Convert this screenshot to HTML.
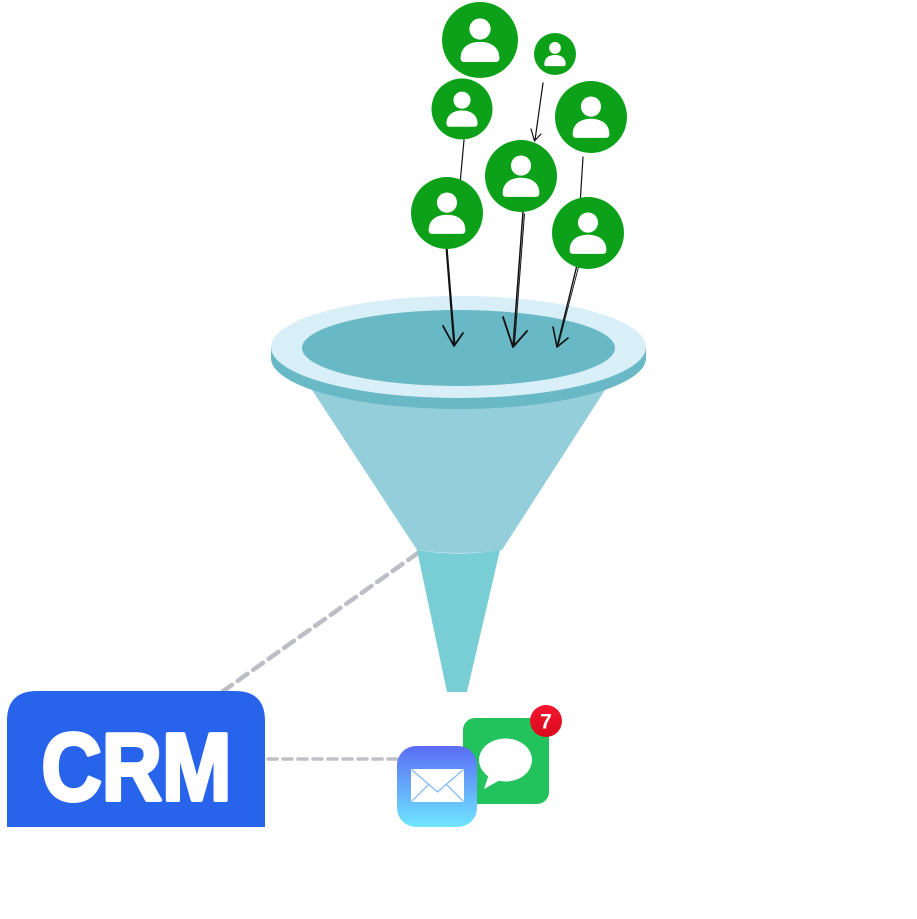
<!DOCTYPE html>
<html><head><meta charset="utf-8"><style>
html,body{margin:0;padding:0;background:#fff;}
svg{display:block;}
</style></head><body>
<svg width="917" height="919" viewBox="0 0 917 919" xmlns="http://www.w3.org/2000/svg">
<defs>
<linearGradient id="mailg" x1="0" y1="0" x2="0" y2="1">
<stop offset="0" stop-color="#5a6cf6"/><stop offset="1" stop-color="#6fe6ff"/>
</linearGradient>
<linearGradient id="badg" x1="0" y1="0" x2="0" y2="1">
<stop offset="0" stop-color="#f5152f"/><stop offset="1" stop-color="#d80a1e"/>
</linearGradient>
<g id="person">
<circle cx="0" cy="-0.29" r="0.28" fill="#fff"/>
<path d="M-0.51,0.48 C-0.51,0.2 -0.3,0.05 0,0.05 C0.3,0.05 0.51,0.2 0.51,0.48 Q0.51,0.58 0.41,0.58 L-0.41,0.58 Q-0.51,0.58 -0.51,0.48 Z" fill="#fff"/>
</g>
</defs>

<!-- dashed connectors -->
<line x1="418" y1="553" x2="212" y2="699" stroke="#bdbdc5" stroke-width="4.5" stroke-dasharray="12 7" stroke-linecap="round"/>
<line x1="268" y1="759" x2="402" y2="759" stroke="#c0c0c8" stroke-width="3.5" stroke-dasharray="9 6" stroke-linecap="round"/>

<!-- funnel -->
<path d="M417,550 Q459,557 500,550 L467,692 L447,692 Z" fill="#79cdd4"/>
<path d="M312,390 L605,390 L502,550 Q459,556 417,550 Z" fill="#94cedb"/>
<ellipse cx="458.5" cy="358" rx="187.5" ry="51" fill="#68b8c5"/>
<rect x="271" y="347" width="375" height="11" fill="#68b8c5"/>
<ellipse cx="458.5" cy="347" rx="187.5" ry="51" fill="#d9eff7"/>
<ellipse cx="458.5" cy="348" rx="156.5" ry="38" fill="#68b8c5"/>

<!-- arrows -->
<g stroke="#111" fill="none" stroke-linecap="round" stroke-linejoin="round">
<line x1="543" y1="83" x2="535" y2="140" stroke-width="1.2"/>
<polyline points="531,129 534.5,141 541,134" stroke-width="1.2"/>

<line x1="464" y1="140" x2="459" y2="195" stroke-width="1.2"/>
<line x1="446" y1="245" x2="454" y2="346" stroke-width="1.5"/>
<line x1="447" y1="246" x2="455" y2="345" stroke-width="1"/>
<polyline points="443,326 454,346 463,333" stroke-width="1.8"/>

<line x1="523" y1="212" x2="513" y2="347" stroke-width="1.5"/>
<line x1="524.5" y1="214" x2="514.5" y2="344" stroke-width="1"/>
<polyline points="503,317 513,347 527,331" stroke-width="1.8"/>
<polyline points="505,322 512,344" stroke-width="1"/>

<line x1="583" y1="157" x2="580" y2="205" stroke-width="1.2"/>
<line x1="577" y1="265" x2="557" y2="347" stroke-width="1.4"/>
<line x1="578.5" y1="267" x2="558.5" y2="344" stroke-width="0.9"/>
<polyline points="553,327 557,347 568,338" stroke-width="1.6"/>
</g>

<!-- people -->
<g fill="#0da11a">
<circle cx="480" cy="40" r="38"/>
<circle cx="555" cy="54" r="21"/>
<circle cx="462" cy="109" r="30.5"/>
<circle cx="591" cy="117" r="36"/>
<circle cx="521" cy="176" r="36"/>
<circle cx="447" cy="213" r="36"/>
<circle cx="588" cy="233" r="36"/>
</g>
<use href="#person" transform="translate(480,40) scale(38)"/>
<use href="#person" transform="translate(555,54) scale(21)"/>
<use href="#person" transform="translate(462,109) scale(30.5)"/>
<use href="#person" transform="translate(591,117) scale(36)"/>
<use href="#person" transform="translate(521,176) scale(36)"/>
<use href="#person" transform="translate(447,213) scale(36)"/>
<use href="#person" transform="translate(588,233) scale(36)"/>

<!-- CRM box -->
<path d="M7,827 L7,721 Q7,691 37,691 L235,691 Q265,691 265,721 L265,827 Z" fill="#2864eb"/>
<text x="41.5" y="800" font-family="Liberation Sans, Arial, sans-serif" font-weight="bold" font-size="96" fill="#fff" stroke="#fff" stroke-width="4" stroke-linejoin="round" textLength="190" lengthAdjust="spacingAndGlyphs">CRM</text>

<!-- messages icon -->
<rect x="463" y="718" width="86" height="86" rx="12" fill="#22c35d"/>
<ellipse cx="505.5" cy="760" rx="26.5" ry="21.5" fill="#fff"/>
<path d="M489,774 L484,789 L500,780 Z" fill="#fff"/>
<circle cx="546" cy="721" r="16" fill="url(#badg)"/>
<text x="546" y="728.5" text-anchor="middle" font-family="Liberation Sans, Arial, sans-serif" font-weight="bold" font-size="21" fill="#fff">7</text>

<!-- mail icon -->
<rect x="397" y="746" width="80" height="81" rx="19" fill="url(#mailg)"/>
<rect x="411" y="769" width="53" height="33" fill="#fff"/>
<g stroke="#7cb6f2" stroke-width="1.2" fill="none">
<polyline points="411.5,769.5 437.5,792 463.5,769.5"/>
<line x1="411.5" y1="801.5" x2="429" y2="784"/>
<line x1="463.5" y1="801.5" x2="446" y2="784"/>
</g>
</svg>
</body></html>
